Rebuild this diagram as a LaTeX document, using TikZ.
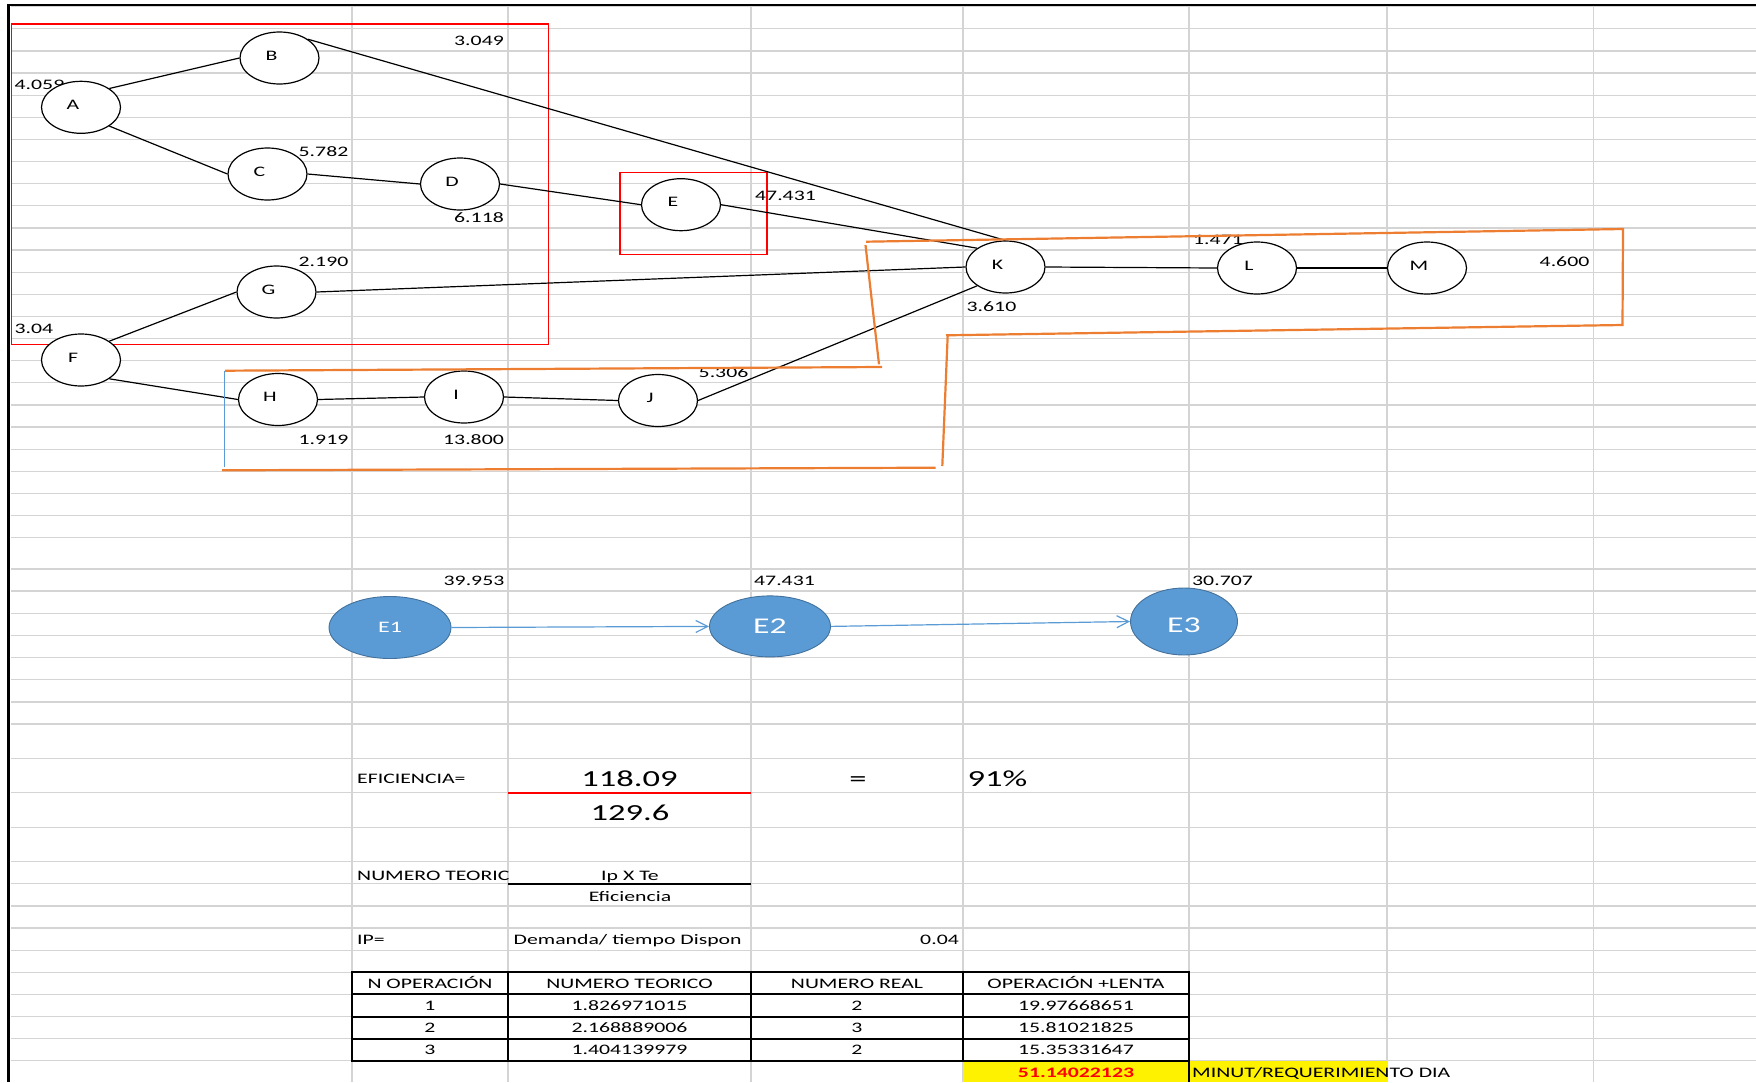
\documentclass[tikz,border=0pt]{standalone}
\usepackage{fontspec}
\setmainfont{Carlito}[FakeStretch=1.5]
\usetikzlibrary{arrows.meta,shapes.geometric}
\definecolor{gridgray}{HTML}{D4D4D4}
\definecolor{accent}{HTML}{ED7D31}
\definecolor{fillblue}{HTML}{5B9BD5}
\definecolor{edgeblue}{HTML}{41719C}
\newcommand\normtxt{\fontsize{14.5}{17}\selectfont}
\newcommand\bigtxt{\fontsize{23}{27}\selectfont}

\begin{document}
\begin{tikzpicture}[x=1pt,y=-1pt,every node/.style={font=\normtxt,inner sep=0pt},
  op/.style={draw,ellipse,fill=white,line width=1.2pt,minimum width=79pt,minimum height=52pt,
    text depth=5pt,execute at begin node=\kern-16pt},
  st/.style={draw=edgeblue,ellipse,fill=fillblue,text=white,line width=0.9pt},
  lnk/.style={line width=1.2pt},
  flow/.style={fillblue,line width=1.2pt,-{Straight Barb[length=12pt,width=12pt]}},
  frame/.style={draw=red,line width=1.5pt},
  zone/.style={accent,line width=2.2pt},
  gridl/.style={gridgray,line width=1.3pt},
  rule/.style={line width=2pt}]
\useasboundingbox (0,0) rectangle (1756,1082);
\foreach \k in {0,...,24} \draw[gridl] (11,{6.7+22.125*\k}) -- (1756,{6.7+22.125*\k});
\foreach \k in {0,...,7} \draw[gridl] (11,{569+22.14*\k}) -- (1756,{569+22.14*\k});
\foreach \yy in {758.3,792.7,827.3,861.7} \draw[gridl] (11,\yy) -- (1756,\yy);
\foreach \k in {1,...,9} \draw[gridl] (11,{861.7+22.12*\k}) -- (1756,{861.7+22.12*\k});
\foreach \xx in {352,508,751,963,1189,1593.5} \draw[gridl] (\xx,7) -- (\xx,1082);
\draw[gridl] (1387,7) -- (1387,1060.7);
\draw[line width=2.5pt] (8.5,1082) -- (8.5,5) -- (1756,5);
\fill[yellow] (963,1060.7) rectangle (1388,1082);
\draw[frame] (11.5,24) rectangle (548.4,344.3);
\draw[frame] (620,172.3) rectangle (767,254.3);
\node[anchor=base east] (wb) at (504,45.7) {3.049};
\node[anchor=base west] (wa) at (14.5,89.7) {4.059};
\node[anchor=base east] (wc) at (348.5,156.4) {5.782};
\node[anchor=base east] (wd) at (504,222.4) {6.118};
\node[anchor=base east] (wg) at (348.5,266.7) {2.190};
\node[anchor=base west] (wf) at (14.5,333.7) {3.04};
\node[anchor=base west] (we) at (755,200.7) {47.431};
\node[anchor=base west] (wl) at (1193,244.7) {1.471};
\node[anchor=base east] (wm) at (1589.5,266.4) {4.600};
\node[anchor=base west] (wk) at (966.5,311.5) {3.610};
\node[anchor=base east] (wj) at (748.5,377.4) {5.306};
\node[anchor=base east] (wh) at (348.5,444.7) {1.919};
\node[anchor=base east] (wi) at (504,444.7) {13.800};
\node[anchor=base east] (we1) at (504.5,585.7) {39.953};
\node[anchor=base west] (we2) at (754,585.7) {47.431};
\node[anchor=base west] (we3) at (1192,585.7) {30.707};
\node[op] (a) at (81,107.3) {A};
\node[op] (b) at (279.5,58) {B};
\node[op] (c) at (267.5,174) {C};
\node[op] (d) at (460,184) {D};
\node[op] (e) at (681,204.7) {E};
\node[op] (f) at (81,360) {F};
\node[op] (g) at (276.5,292) {G};
\node[op] (h) at (278,399.5) {H};
\node[op] (i) at (464,397) {I};
\node[op] (j) at (658,400.5) {J};
\node[op] (k) at (1005.5,267) {K};
\node[op] (l) at (1257,268) {L};
\node[op] (m) at (1427,268) {M};
\draw[lnk] (a.north east) -- (b.west);
\draw[lnk] (a.south east) -- (c.west);
\draw[lnk] (c.east) -- (d.west);
\draw[lnk] (d.east) -- (e.west);
\draw[lnk] (e.east) -- (k.north west);
\draw[lnk] (b.north east) -- (k.north);
\draw[lnk] (g.east) -- (k.west);
\draw[lnk] (f.north east) -- (g.west);
\draw[lnk] (f.south east) -- (h.west);
\draw[lnk] (h.east) -- (i.west);
\draw[lnk] (i.east) -- (j.west);
\draw[lnk] (j.east) -- (k.south west);
\draw[lnk] (k.east) -- (l.west);
\draw[lnk] (l.east) -- (m.west);
\draw[zone] (866,241.7) -- (1623,229) -- (1622.5,325) -- (946,335.3);
\draw[zone] (947.7,335) -- (942.3,466);
\draw[zone] (935.6,467.7) -- (222,470.3);
\draw[zone] (225,370.7) -- (882,367);
\draw[zone] (865.5,245) -- (879,364.3);
\draw[fillblue,line width=1pt] (224.5,370.7) -- (224.5,466.7);
\node[st,minimum width=122pt,minimum height=62pt,font=\fontsize{16}{19}\selectfont] (e1) at (390,627.5) {E1};
\node[st,minimum width=121pt,minimum height=61pt,font=\fontsize{22.5}{26}\selectfont] (e2) at (770,626.4) {E2};
\node[st,minimum width=107pt,minimum height=67pt,font=\fontsize{22.5}{26}\selectfont] (e3) at (1184,621.5) {\raisebox{-3.5pt}[14.5pt][0pt]{E3}};
\draw[flow] (e1.east) -- (e2.west);
\draw[flow] (e2.east) -- (e3.west);
\node[anchor=base west] (efi) at (357,783) {EFICIENCIA=};
\node[anchor=base,font=\bigtxt] (num) at (629.5,786.7) {118.09};
\draw[red,rule] (508,792.7) -- (751,792.7);
\node[anchor=base,font=\bigtxt] (den) at (630,820) {129.6};
\node[anchor=base,font=\bigtxt] (eq) at (858,786.7) {=};
\node[anchor=base west,font=\bigtxt] (pct) at (967.5,786.7) {91\%};
\node[anchor=base west] (nt) at (357,880) {NUMERO TEORIC};
\node[anchor=base] (ipte) at (630,880) {Ip X Te};
\draw[rule] (508,884) -- (751,884);
\node[anchor=base] (efd) at (630,901) {Eficiencia};
\node[anchor=base west] (ip) at (357,944) {IP=};
\node[anchor=base west] (dem) at (513.5,944) {Demanda/ tiempo Dispon};
\node[anchor=base east] (ipv) at (959,944) {0.04};
\draw[rule] (352,971.7) rectangle (1189,1060.7);
\foreach \yy in {994,1016.5,1038.7} \draw[rule] (352,\yy) -- (1189,\yy);
\foreach \xx in {508,751,963} \draw[rule] (\xx,971.7) -- (\xx,1060.7);
\draw[rule] (1189,1060.7) -- (1189,1082);
\foreach \r/\yy/\na/\nb/\nc/\nd in {0/988/N OPERACIÓN/NUMERO TEORICO/NUMERO REAL/OPERACIÓN +LENTA,
    1/1010/1/1.826971015/2/19.97668651,2/1032.5/2/2.168889006/3/15.81021825,
    3/1054.5/3/1.404139979/2/15.35331647}{
  \node[anchor=base] (c1r\r) at (430,\yy) {\na};
  \node[anchor=base] (c2r\r) at (629.5,\yy) {\nb};
  \node[anchor=base] (c3r\r) at (857,\yy) {\nc};
  \node[anchor=base] (c4r\r) at (1076,\yy) {\nd};
}
\node[anchor=base,text=red,font=\normtxt\bfseries] (tot) at (1076,1077) {51.14022123};
\node[anchor=base west] (unit) at (1192,1077) {MINUT/REQUERIMIENTO DIA};
\end{tikzpicture}
\end{document}
